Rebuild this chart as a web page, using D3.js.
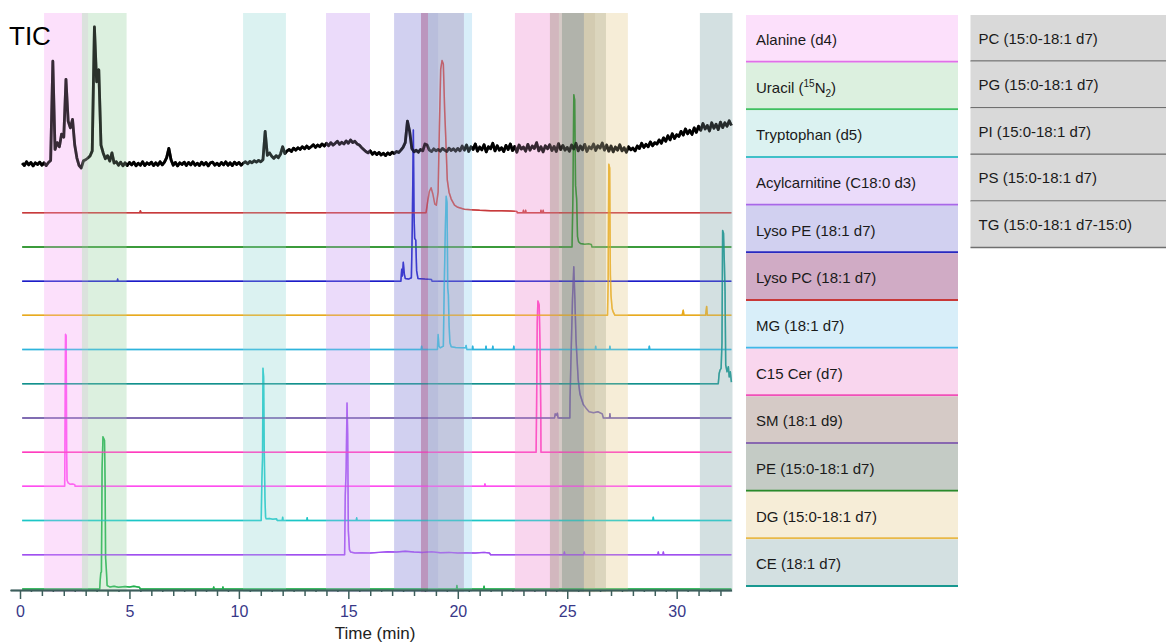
<!DOCTYPE html>
<meta charset="utf-8">
<script src="https://d3js.org/d3.v7.min.js"></script>
<style>
body { margin: 0; background-color: white; }
text { font-family: "Liberation Sans", Arial, Helvetica, sans-serif; }
</style>
<div id="chart"></div>
<script>
// compounds, in legend order (top to bottom)
var compounds = ["Alanine (d4)", "Uracil (15N2)", "Tryptophan (d5)", "Acylcarnitine (C18:0 d3)",
  "Lyso PE (18:1 d7)", "Lyso PC (18:1 d7)", "MG (18:1 d7)", "C15 Cer (d7)",
  "SM (18:1 d9)", "PE (15:0-18:1 d7)", "DG (15:0-18:1 d7)", "CE (18:1 d7)"];
// retention window shown as a shaded band (min)
var bandStart = [1.10, 2.83, 10.19, 13.98, 17.09, 18.32, 18.64, 22.61, 24.21, 24.76, 25.76, 31.06];
var bandEnd   = [3.11, 4.87, 12.15, 15.99, 19.10, 20.28, 20.65, 24.62, 26.27, 26.77, 27.77, 33.06];
// position of each compound trace in the stack, counted from the bottom
var stackLevel = [3, 0, 2, 1, 9, 11, 7, 4, 5, 10, 8, 6];
var otherCompounds = ["PC (15:0-18:1 d7)", "PG (15:0-18:1 d7)", "PI (15:0-18:1 d7)", "PS (15:0-18:1 d7)", "TG (15:0-18:1 d7-15:0)"];

// extracted ion chromatograms: [time (min), relative intensity]
var trAlanine = [[0.1,0],[2.04,0],[2.06,2.0],[2.08,4.45],[2.11,4.4],[2.13,1.0],[2.15,0.18],[2.2,0.1],[2.3,0.06],[2.4,0.07],[2.5,0.05],[2.52,0],[21.22,0],[21.24,0.07],[21.26,0],[32.5,0]];
var trUracil = [[0.1,0],[3.64,0],[3.66,0.22],[3.69,0.47],[3.72,0.5],[3.75,3.5],[3.79,4.45],[3.86,4.35],[3.89,3.0],[3.91,0.9],[3.94,0.62],[3.98,0.1],[4.1,0.06],[4.3,0.08],[4.5,0.05],[4.8,0.07],[5.0,0.06],[5.2,0.08],[5.45,0.05],[5.5,0],[8.83,0],[8.85,0.06],[8.87,0],[9.25,0],[9.27,0.06],[9.29,0],[19.94,0],[19.96,0.1],[19.98,0],[21.18,0],[21.2,0.08],[21.22,0],[32.5,0]];
var trTryptophan = [[0.1,0],[11.02,0],[11.05,1.2],[11.08,1.8],[11.1,4.45],[11.13,4.2],[11.16,2.0],[11.19,0.67],[11.22,0.1],[11.25,0.05],[11.4,0.06],[11.55,0.04],[11.72,0.05],[11.75,0],[11.98,0],[12.0,0.1],[12.02,0],[13.1,0],[13.12,0.08],[13.14,0],[15.36,0],[15.38,0.08],[15.4,0],[28.91,0],[28.93,0.1],[28.95,0],[32.5,0]];
var trAcyl = [[0.1,0],[14.83,0],[14.86,1.75],[14.9,2.5],[14.94,4.44],[14.97,3.5],[15.0,0.7],[15.05,0.15],[15.1,0.08],[15.3,0.05],[15.6,0.06],[16.0,0.05],[16.4,0.07],[16.8,0.09],[17.2,0.08],[17.6,0.1],[18.0,0.08],[18.4,0.07],[18.8,0.09],[19.2,0.06],[19.6,0.07],[20.0,0.05],[20.4,0.06],[20.8,0.05],[21.2,0.07],[21.45,0.05],[21.5,0],[24.85,0],[24.87,0.08],[24.89,0],[25.76,0],[25.78,0.08],[25.8,0],[29.14,0],[29.16,0.08],[29.18,0],[29.37,0],[29.39,0.08],[29.41,0],[32.5,0]];
var trLysoPE = [[0.1,0],[4.44,0],[4.46,0.06],[4.48,0],[17.4,0],[17.44,0.35],[17.47,0.15],[17.51,0.55],[17.56,0.2],[17.6,0.08],[17.75,0.06],[17.88,0.1],[17.92,1.5],[17.97,4.42],[18.0,2.0],[18.03,1.25],[18.08,1.2],[18.12,0.3],[18.18,0.08],[18.5,0.06],[18.8,0.05],[18.82,0],[32.5,0]];
var trLysoPC = [[0.1,0],[5.47,0],[5.5,0.06],[5.53,0],[18.55,0],[18.62,0.3],[18.7,0.62],[18.78,0.73],[18.86,0.55],[18.95,0.25],[19.02,0.22],[19.1,0.6],[19.16,2.5],[19.22,4.2],[19.28,4.45],[19.34,4.35],[19.4,3.0],[19.45,2.2],[19.52,0.96],[19.6,0.6],[19.7,0.4],[19.85,0.22],[20.0,0.16],[20.3,0.1],[20.6,0.09],[21.0,0.07],[21.5,0.06],[22.0,0.06],[22.4,0.05],[22.7,0.04],[22.72,0],[22.98,0],[23.0,0.07],[23.02,0],[23.08,0],[23.1,0.07],[23.12,0],[23.78,0],[23.8,0.07],[23.82,0],[23.88,0],[23.9,0.07],[23.92,0],[32.5,0]];
var trMG = [[0.1,0],[18.33,0],[18.35,0.1],[18.37,0],[19.07,0],[19.1,0.44],[19.14,0.1],[19.2,0.05],[19.34,0.1],[19.38,1.8],[19.43,3.5],[19.47,4.48],[19.51,4.3],[19.54,1.8],[19.57,1.6],[19.6,0.75],[19.64,0.2],[19.7,0.08],[19.9,0.06],[20.2,0.05],[20.36,0.05],[20.38,0.12],[20.4,0.04],[20.42,0],[20.66,0],[20.68,0.1],[20.7,0],[21.27,0],[21.29,0.1],[21.31,0],[21.58,0],[21.6,0.1],[21.62,0],[22.54,0],[22.56,0.1],[22.58,0],[26.28,0],[26.3,0.1],[26.32,0],[26.93,0],[26.95,0.1],[26.97,0],[28.73,0],[28.75,0.1],[28.77,0],[32.5,0]];
var trC15Cer = [[0.1,0],[23.58,0],[23.6,1.35],[23.63,3.8],[23.66,4.42],[23.72,4.3],[23.76,3.0],[23.79,1.3],[23.8,0],[32.5,0]];
var trSM = [[0.1,0],[24.42,0],[24.45,0.12],[24.5,0.08],[24.55,0.14],[24.58,0],[25.12,0],[25.13,0.6],[25.17,1.7],[25.24,3.46],[25.3,4.42],[25.35,3.46],[25.4,2.3],[25.45,1.7],[25.5,1.13],[25.58,0.7],[25.73,0.4],[25.89,0.26],[26.0,0.18],[26.2,0.15],[26.4,0.18],[26.6,0.12],[26.65,0],[26.93,0],[26.95,0.12],[26.97,0],[32.5,0]];
var trPE = [[0.1,0],[25.22,0],[25.26,1.5],[25.3,4.45],[25.34,4.3],[25.38,1.8],[25.43,1.4],[25.47,0.3],[25.52,0.15],[25.6,0.1],[25.8,0.08],[26.0,0.09],[26.1,0.07],[26.13,0],[32.5,0]];
var trDG = [[0.1,0],[26.84,0],[26.87,1.0],[26.9,4.42],[26.94,4.3],[26.97,1.2],[27.0,0.58],[27.05,0.2],[27.1,0.1],[27.18,0],[30.25,0],[30.3,0.15],[30.33,0],[31.32,0],[31.37,0.26],[31.4,0],[32.5,0]];
var trCE = [[0.1,0],[31.9,0],[31.94,0.3],[31.98,0.4],[32.03,0.45],[32.07,1.2],[32.1,4.48],[32.14,4.4],[32.18,3.5],[32.21,2.7],[32.24,0.55],[32.3,0.35],[32.36,0.5],[32.4,0.2],[32.45,0.35],[32.5,0.05]];
var traces = [trAlanine, trUracil, trTryptophan, trAcyl, trLysoPE, trLysoPC, trMG, trC15Cer, trSM, trPE, trDG, trCE];

// total ion chromatogram, one value every 0.1 min starting at 0.1 min
var ticStart = 0.1, ticStep = 0.1;
var ticValues = [
  0.02,-0.05,0.06,-0.03,0.04,-0.06,0.03,-0.02,0.05,-0.04,
  0.03,-0.05,0.04,0.10,3.00,0.42,0.62,0.50,0.87,0.78,
  2.47,1.25,1.05,1.30,0.55,0.17,-0.05,-0.12,0.09,0.12,
  0.17,0.23,0.38,4.00,2.40,2.75,0.55,0.32,0.15,0.24,
  0.08,0.32,0.02,0.06,-0.04,0.05,-0.06,0.03,-0.05,0.04,
  -0.03,0.05,-0.06,0.02,-0.04,0.06,-0.05,0.03,-0.02,0.05,
  -0.05,0.03,-0.04,0.06,-0.03,0.05,0.18,0.45,0.12,-0.04,
  0.04,-0.06,0.03,-0.02,0.05,-0.05,0.04,-0.03,0.06,-0.04,
  0.02,-0.05,0.05,-0.03,0.04,-0.06,0.03,0.05,-0.04,0.02,
  -0.05,0.04,-0.03,0.06,-0.04,0.03,-0.05,0.05,-0.02,0.04,
  -0.04,0.02,0.06,0.00,0.07,0.03,0.09,0.05,0.10,0.06,
  0.12,0.95,0.25,0.32,0.22,0.16,0.24,0.18,0.28,0.50,
  0.30,0.38,0.42,0.36,0.46,0.40,0.47,0.42,0.50,0.44,
  0.52,0.45,0.50,0.56,0.48,0.55,0.50,0.58,0.52,0.60,
  0.53,0.62,0.55,0.60,0.66,0.57,0.63,0.58,0.67,0.60,
  0.70,0.62,0.66,0.58,0.55,0.48,0.42,0.36,0.32,0.38,
  0.28,0.34,0.27,0.33,0.26,0.31,0.24,0.32,0.27,0.34,
  0.30,0.36,0.33,0.40,0.48,0.62,1.25,0.95,0.45,0.35,
  0.40,0.34,0.42,0.38,0.58,0.55,0.40,0.36,0.44,0.38,
  0.42,0.37,0.45,0.40,0.36,0.46,0.39,0.44,0.37,0.45,
  0.38,0.52,0.40,0.55,0.36,0.50,0.42,0.58,0.37,0.49,
  0.41,0.56,0.35,0.50,0.44,0.60,0.38,0.53,0.40,0.47,
  0.36,0.54,0.42,0.58,0.39,0.51,0.34,0.55,0.43,0.49,
  0.37,0.57,0.40,0.52,0.45,0.62,0.38,0.50,0.35,0.53,
  0.44,0.56,0.39,0.51,0.36,0.59,0.42,0.54,0.40,0.48,
  0.37,0.55,0.43,0.60,0.38,0.52,0.41,0.57,0.36,0.50,
  0.44,0.58,0.39,0.53,0.46,0.61,0.40,0.55,0.37,0.52,
  0.35,0.49,0.40,0.56,0.38,0.47,0.34,0.50,0.41,0.46,
  0.38,0.52,0.45,0.60,0.48,0.57,0.50,0.64,0.53,0.62,
  0.58,0.70,0.60,0.76,0.66,0.82,0.70,0.88,0.74,0.85,
  0.80,0.95,0.84,1.02,0.88,0.98,0.86,1.05,0.92,1.10,
  0.98,1.18,1.02,1.12,0.96,1.20,1.04,1.16,1.00,1.22,
  1.06,1.20,1.10,1.26,1.12
];
var ticLevel = 12.46;

var tickLabels = [0, 5, 10, 15, 20, 25, 30];

// styles
var bandColors = ["#fce0fb", "#dcf0df", "#dbf2f1", "#ebdbfa", "#d1d0f0", "#d0abc5",
  "#d8eef9", "#f9d6ee", "#d5cac6", "#c4cbc5", "#f6edd7", "#d3e0e1"];
var lineColors = ["#ff4cf0", "#22b04e", "#1cc6c6", "#a050f0", "#1c1cc8", "#c83a3c",
  "#2db4dc", "#ff3cbe", "#6c56a6", "#1e8c1e", "#e8aa1e", "#13918d"];
var edgeColors = ["#e070e8", "#40c060", "#40c0c8", "#a868e8", "#2828c0", "#c83838",
  "#40b8e8", "#f050b8", "#8868b0", "#2a8a2a", "#e8b848", "#189890"];
var bandAlpha = 0.55;

var width = 1166, height = 642;
var svg = d3.select("#chart").append("svg")
  .attr("width", width).attr("height", height);

var x = d3.scaleLinear().domain([-0.45, 32.5]).range([10.15, 731.4]);
var y = d3.scaleLinear().domain([0, 16.87]).range([590, 13]);

var ticLine = d3.line()
  .x(function(d, i) { return x(ticStart + i * ticStep); })
  .y(function(d) { return y(ticLevel + d); });

// all chromatograms; drawn twice, under and over the bands
function drawTraces(g, opacity) {
  traces.forEach(function(tr, i) {
    var lvl = stackLevel[i] + 0.03;
    var line = d3.line()
      .x(function(d) { return x(d[0]); })
      .y(function(d) { return y(lvl + d[1]); });
    g.append("path")
      .datum(tr)
      .attr("d", line)
      .attr("fill", "none")
      .attr("stroke", lineColors[i])
      .attr("stroke-width", 1.5)
      .attr("stroke-linejoin", "round")
      .attr("stroke-opacity", opacity);
  });
  g.append("path")
    .datum(ticValues)
    .attr("d", ticLine)
    .attr("fill", "none")
    .attr("stroke", "black")
    .attr("stroke-width", 2.8)
    .attr("stroke-linejoin", "round")
    .attr("stroke-opacity", opacity);
}
drawTraces(svg.append("g"), 1);

// bands are laid over the traces, semi transparent
function overlayColor(hex) {
  var c = d3.rgb(hex);
  return d3.rgb(255 - (255 - c.r) / bandAlpha, 255 - (255 - c.g) / bandAlpha, 255 - (255 - c.b) / bandAlpha).formatHex();
}
svg.append("g").selectAll("rect")
  .data(compounds)
  .enter().append("rect")
    .attr("x", function(d, i) { return x(bandStart[i]); })
    .attr("width", function(d, i) { return x(Math.min(bandEnd[i], 32.55)) - x(bandStart[i]); })
    .attr("y", y(16.87))
    .attr("height", y(-0.06) - y(16.87))
    .attr("fill", function(d, i) { return overlayColor(bandColors[i]); })
    .attr("fill-opacity", bandAlpha);

drawTraces(svg.append("g"), 0.6);

// x axis
var axisColor = "#3d5e5b";
var halfTicks = d3.range(0, 65).map(function(k) { return k * 0.5; }).filter(function(v) { return v % 1 !== 0; });
var minuteTicks = d3.range(0, 33).filter(function(v) { return v % 5 !== 0; });
var axisG = svg.append("g").attr("transform", "translate(0,590)");
axisG.append("g").call(d3.axisBottom(x).tickValues(halfTicks).tickSize(2).tickSizeOuter(0).tickFormat(""));
axisG.append("g").call(d3.axisBottom(x).tickValues(minuteTicks).tickSize(6).tickSizeOuter(0).tickFormat(""));
axisG.append("g").call(d3.axisBottom(x).tickValues(tickLabels).tickSize(9).tickSizeOuter(0).tickPadding(7));
axisG.selectAll("path.domain").attr("stroke", axisColor).attr("stroke-width", 1.5);
axisG.selectAll(".tick line").attr("stroke", axisColor).attr("stroke-width", 1.5);
axisG.selectAll(".tick text")
  .attr("fill", "#383888")
  .style("font-size", "16px")
  .style("font-family", "'Liberation Sans', Arial, sans-serif");

svg.append("text")
  .attr("x", 375).attr("y", 639)
  .attr("text-anchor", "middle")
  .style("font-size", "17px")
  .attr("fill", "#222")
  .text("Time (min)");

svg.append("text")
  .attr("x", 9).attr("y", 45)
  .style("font-size", "26px")
  .attr("fill", "black")
  .text("TIC");

// legend, first column
var lx = 746, lw = 212, ltop = 15, lh = 47.67;
var leg = svg.append("g");
compounds.forEach(function(name, i) {
  var top = ltop + i * lh;
  leg.append("rect")
    .attr("x", lx).attr("y", top).attr("width", lw).attr("height", lh)
    .attr("fill", bandColors[i]);
  leg.append("line")
    .attr("x1", lx).attr("x2", lx + lw)
    .attr("y1", top + lh - 1).attr("y2", top + lh - 1)
    .attr("stroke", edgeColors[i]).attr("stroke-width", 2);
  var t = leg.append("text")
    .attr("x", lx + 10).attr("y", top + 30)
    .style("font-size", "15px")
    .attr("fill", "#1a1a1a");
  if (name.indexOf("15N2") >= 0) {
    t.append("tspan").text("Uracil (");
    t.append("tspan").attr("dy", -6).style("font-size", "10px").text("15");
    t.append("tspan").attr("dy", 6).text("N");
    t.append("tspan").attr("dy", 4).style("font-size", "10px").text("2");
    t.append("tspan").attr("dy", -4).text(")");
  } else {
    t.text(name);
  }
});

// legend, second column (grey)
var gx = 970.5, gw = 196, gh = 46.6;
otherCompounds.forEach(function(name, i) {
  var top = ltop + i * gh;
  leg.append("rect")
    .attr("x", gx).attr("y", top).attr("width", gw).attr("height", gh)
    .attr("fill", "#d9d9d9");
  leg.append("line")
    .attr("x1", gx).attr("x2", gx + gw)
    .attr("y1", top + gh - 0.5).attr("y2", top + gh - 0.5)
    .attr("stroke", "#6f6f6f").attr("stroke-width", 1.5);
  leg.append("text")
    .attr("x", gx + 8).attr("y", top + 28.5)
    .style("font-size", "15px")
    .attr("fill", "#1a1a1a")
    .text(name);
});
</script>
